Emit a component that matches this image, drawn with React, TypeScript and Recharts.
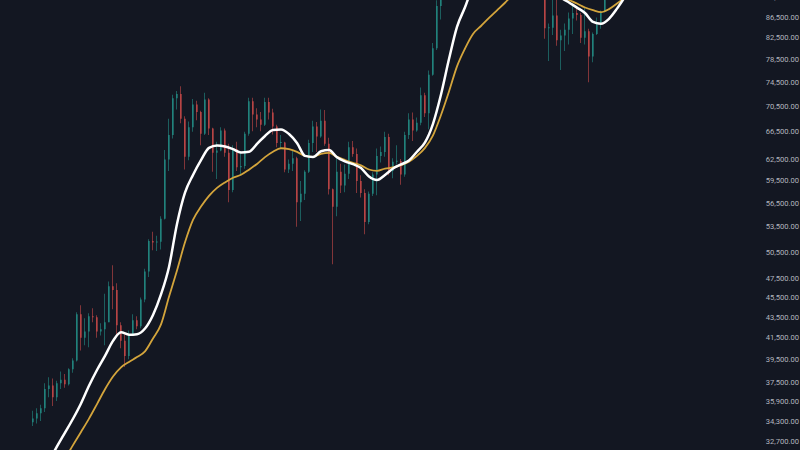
import React from "react";
import { Bar, Cell, ComposedChart, Line, XAxis, YAxis } from "recharts";

// daily-ish BTC candles, [open, high, low, close]
const candles: [number, number, number, number][] = [
  [34200, 35100, 33900, 34500], [34500, 35300, 34100, 34900], [34900, 35600, 34300, 35300], [35300, 37400, 35000, 36900],
  [36900, 37900, 36200, 37200], [37200, 37800, 35500, 36200], [36200, 37600, 35900, 37400], [37400, 38400, 36900, 37700],
  [37700, 38200, 37000, 37300], [37300, 38700, 37200, 38600], [38600, 39600, 38300, 39400], [39400, 44000, 39300, 43800],
  [43800, 44700, 40300, 41500], [41500, 43400, 40800, 42100], [42100, 43900, 40600, 43600], [43600, 44400, 43000, 43500],
  [43500, 43700, 41500, 42100], [42100, 42900, 41700, 42300], [42300, 45900, 40800, 43000], [43000, 47200, 43000, 46700],
  [46700, 49000, 44300, 46300], [46300, 47000, 41700, 42700], [42700, 43000, 40500, 41200], [41200, 41800, 38800, 39800],
  [39800, 42200, 39500, 41800], [41800, 43800, 41700, 43200], [43200, 43600, 42300, 42600], [42600, 45500, 42400, 45300],
  [45300, 48600, 45000, 48300], [48300, 52000, 47700, 51800], [51800, 52900, 50700, 51600], [51600, 52400, 50600, 51700],
  [51700, 54800, 50800, 54500], [54500, 63800, 54400, 62400], [62400, 68500, 60800, 66000], [66000, 72400, 65500, 71800],
  [71800, 73000, 70000, 72500], [72500, 73800, 67800, 68500], [68500, 68900, 61000, 62800], [62800, 68100, 62300, 67200],
  [67200, 71700, 66500, 70800], [70800, 71400, 68300, 69600], [69600, 69800, 64500, 66200], [66200, 72700, 66000, 71600],
  [71600, 71800, 66000, 67000], [67000, 67100, 60700, 63400], [63400, 65000, 59700, 63700], [63700, 67200, 63600, 66700],
  [66700, 67000, 62800, 63400], [63400, 64700, 56600, 58200], [58200, 64500, 57900, 63900], [63900, 65000, 60800, 61300],
  [61300, 63400, 60200, 61500], [61500, 66500, 61100, 66200], [66200, 71900, 65900, 71300], [71300, 71900, 66600, 69200],
  [69200, 70200, 67200, 68400], [68400, 69600, 66600, 67600], [67600, 71900, 67400, 71200], [71200, 71900, 68400, 69500],
  [69500, 70100, 66100, 67300], [67300, 67600, 64200, 64800], [64800, 66000, 64000, 64900], [64900, 65000, 60600, 61000],
  [61000, 62400, 60500, 61800], [61800, 63800, 60800, 62600], [62600, 62800, 53500, 56600], [56600, 59400, 54200, 57700],
  [57700, 60900, 56900, 60700], [60700, 65300, 60500, 64800], [64800, 68200, 63500, 67300], [67300, 68000, 63500, 65800],
  [65800, 70000, 65600, 68200], [68200, 69900, 64400, 64700], [64700, 65600, 57600, 58300], [58300, 58400, 49100, 56000],
  [56000, 62600, 54800, 60700], [60700, 61800, 57800, 58800], [58800, 61700, 57900, 60400], [60400, 65000, 59700, 64200],
  [64200, 65100, 62800, 63200], [63200, 64000, 57800, 59400], [59400, 60200, 57200, 57800], [57800, 58300, 52600, 54100],
  [54100, 58000, 53800, 57700], [57700, 60600, 57400, 60300], [60300, 64000, 57500, 62900], [62900, 64300, 62000, 63500],
  [63500, 66500, 62800, 65700], [65700, 66200, 60200, 60800], [60800, 62600, 59800, 62100], [62100, 64500, 61700, 62200],
  [62200, 62500, 58900, 60300], [60300, 66500, 60000, 66000], [66000, 69400, 65400, 68400], [68400, 69500, 65100, 66700],
  [66700, 68700, 66500, 67900], [67900, 73600, 67500, 72300], [72300, 72700, 68800, 69400], [69400, 76500, 66900, 75800],
  [75800, 81500, 75600, 80500], [80500, 89900, 80200, 88700], [88700, 93200, 86000, 91000], [91000, 99500, 90800, 98300],
  [98300, 99000, 92600, 95800], [95800, 98900, 90800, 96400], [96400, 99300, 93600, 96000], [96000, 103900, 90500, 99900],
  [99900, 101300, 94200, 100000], [100000, 106500, 99400, 106100], [106100, 108300, 97500, 97800], [97800, 99500, 92200, 95200],
  [95200, 99900, 93300, 94300], [94300, 96100, 91500, 93400], [93400, 98900, 92700, 98200], [98200, 102700, 96800, 96900],
  [96900, 97300, 92500, 94500], [94500, 95900, 90000, 94400], [94400, 105800, 94200, 104500], [104500, 109600, 99500, 102300],
  [102300, 106300, 101200, 104800], [104800, 105300, 97800, 102400], [102400, 102800, 91200, 97700], [97700, 101300, 95700, 96500],
  [96500, 98500, 94900, 97500], [97500, 98800, 95200, 96600], [96600, 97900, 94900, 96100], [96100, 99500, 95200, 96300],
  [96300, 96500, 82300, 84300], [84300, 85200, 78200, 84400], [84400, 95000, 83000, 86800], [86800, 92800, 81000, 82000],
  [82000, 84000, 76600, 82900], [82900, 85200, 80000, 84000], [84000, 87400, 81200, 86200], [86200, 88700, 83200, 87300],
  [87300, 88500, 85800, 86900], [86900, 87300, 81500, 82500], [82500, 88500, 81200, 83700], [83700, 84200, 74500, 79000],
  [79000, 83500, 78000, 83200], [83200, 86400, 83000, 84900], [84900, 87800, 84200, 87500], [87500, 94600, 87400, 93500],
  [93500, 95800, 92900, 94300], [94300, 97900, 92900, 96500], [96500, 97500, 93500, 96800], [96800, 104000, 96100, 103300],
];

// white moving average, one value every 2 candles from candle 4
const maFastStart = 4;
const maFast = [
  31310, 32350, 33390, 34470, 35700, 37170, 38540, 39810, 41200, 42020, 41790, 41840, 42380, 43720, 45830, 48800,
  53850, 57850, 60240, 62320, 64090, 64460, 64310, 63910, 63430, 63540, 64680, 65870, 66760, 66850, 66160, 64820,
  62930, 62780, 63600, 63790, 62730, 62140, 61750, 61200, 60040, 59560, 60240, 61140, 61710, 62280, 63530, 64910,
  67730, 72420, 78550, 84570, 88430, 92800, 95000, 96000, 97000, 97500, 98500, 99500, 99000, 97500, 95500, 93000,
  90500, 89420, 88370, 87290, 85520, 85170, 86140, 88170, 90600,
];

// gold moving average, one value every 2 candles from candle 8
const maSlowStart = 8;
const maSlow = [
  31450, 32450, 33440, 34480, 35650, 36880, 37970, 38780, 39260, 39700, 40220, 41430, 42780, 45570, 48410, 51630,
  54350, 56030, 57420, 58480, 59220, 59860, 60270, 60980, 61780, 62750, 63530, 64040, 63900, 63500, 62940, 62790,
  63210, 63360, 62780, 62340, 61940, 61580, 61000, 60820, 61130, 61280, 61600, 62100, 62930, 64090, 65960, 69100,
  72920, 77250, 80470, 83200, 84730, 86300, 87820, 89360, 91000, 92000, 92600, 92800, 92500, 91800, 90800, 89930,
  89200, 88400, 87860, 87470, 88070, 89200, 90400,
];

const priceTicks = [
  32700, 34300, 35900, 37500, 39500, 41500, 43500, 45500, 47500, 50500, 53500,
  56500, 59500, 62500, 66500, 70500, 74500, 78500, 82500, 86500, 90500,
];

const BG = "#131722";
const UP = "#26a69a";
const DOWN = "#ef5350";

const rows = candles.map(([o, h, l, c], i) => ({
  i,
  wick: [l, h],
  body: [Math.min(o, c), Math.max(o, c)],
  up: c >= o,
}));
const fastData = maFast.map((v, k) => ({ i: maFastStart + 2 * k, fast: v }));
const slowData = maSlow.map((v, k) => ({ i: maSlowStart + 2 * k, slow: v }));

const fmt = (v: number) =>
  v.toLocaleString("en-US", { minimumFractionDigits: 2, maximumFractionDigits: 2 });

const xDomain = [-8.25, 180.5];

export default function App() {
  return (
    <div
      style={{
        position: "fixed",
        left: 0,
        top: 0,
        width: 800,
        height: 450,
        overflow: "hidden",
        background: BG,
      }}
    >
      <div style={{ position: "absolute", left: 0, top: -20 }}>
        <ComposedChart width={800} height={470} data={rows} margin={{ top: 0, right: 0, bottom: 0, left: 0 }}>
          <XAxis xAxisId="w" dataKey="i" type="number" domain={xDomain} allowDataOverflow hide />
          <XAxis xAxisId="b" dataKey="i" type="number" domain={xDomain} allowDataOverflow hide />
          <YAxis
            orientation="right"
            scale="log"
            domain={[32090, 94140]}
            allowDataOverflow
            ticks={priceTicks}
            interval={0}
            width={45}
            axisLine={false}
            tickLine={false}
            tickMargin={4}
            tickFormatter={fmt}
            tick={{
              fill: "#b2b5be",
              fontSize: 7.6,
              fontFamily: "Roboto, sans-serif",
              textAnchor: "end",
              dx: 34,
            }}
          />
          <Bar xAxisId="w" dataKey="wick" barSize={1} isAnimationActive={false}>
            {rows.map((r) => (
              <Cell key={r.i} fill={r.up ? UP : DOWN} fillOpacity={0.5} />
            ))}
          </Bar>
          <Bar xAxisId="b" dataKey="body" barSize={2} minPointSize={1} isAnimationActive={false}>
            {rows.map((r) => (
              <Cell key={r.i} fill={r.up ? UP : DOWN} fillOpacity={0.5} />
            ))}
          </Bar>
          <Line
            xAxisId="w"
            data={slowData}
            dataKey="slow"
            type="monotone"
            stroke="#d4a53c"
            strokeWidth={1.8}
            dot={false}
            isAnimationActive={false}
          />
          <Line
            xAxisId="w"
            data={fastData}
            dataKey="fast"
            type="monotone"
            stroke="#ffffff"
            strokeWidth={2.5}
            dot={false}
            isAnimationActive={false}
          />
        </ComposedChart>
      </div>
    </div>
  );
}
